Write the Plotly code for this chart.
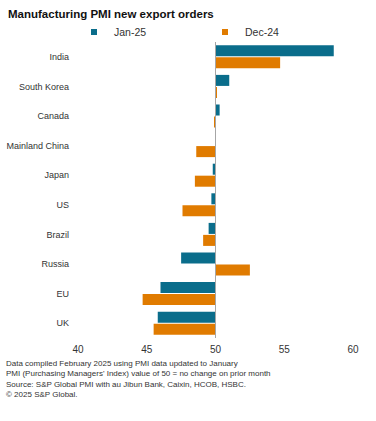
import plotly.graph_objects as go

countries = ["India", "South Korea", "Canada", "Mainland China", "Japan", "US", "Brazil", "Russia", "EU", "UK"]
jan25 = [58.6, 51.0, 50.3, 50.0, 49.8, 49.7, 49.5, 47.5, 46.0, 45.8]
dec24 = [54.7, 50.1, 49.9, 48.6, 48.5, 47.6, 49.1, 52.5, 44.7, 45.5]
baseline = 50
x_ticks = [40, 45, 50, 55, 60]

TEAL = "#0a6d8b"
ORANGE = "#e07b00"

fig = go.Figure()
fig.add_trace(go.Bar(
    y=countries, x=[v - baseline for v in jan25], base=baseline, orientation="h",
    name="Jan-25", marker=dict(color=TEAL, line=dict(width=0)), showlegend=False,
))
fig.add_trace(go.Bar(
    y=countries, x=[v - baseline for v in dec24], base=baseline, orientation="h",
    name="Dec-24", marker=dict(color=ORANGE, line=dict(width=0)), showlegend=False,
))
# legend-only entries with small square symbols
fig.add_trace(go.Scatter(x=[None], y=[None], mode="markers", name="Jan-25",
                         marker=dict(symbol="square", size=6, color=TEAL), legend="legend"))
fig.add_trace(go.Scatter(x=[None], y=[None], mode="markers", name="Dec-24",
                         marker=dict(symbol="square", size=6, color=ORANGE), legend="legend2"))

fig.add_shape(type="line", xref="x", yref="paper", x0=baseline, x1=baseline, y0=0, y1=1,
              line=dict(color="#a6a6a6", width=1))

W, H, L, R, T, B = 376, 421, 78, 23, 42, 83
PW = W - L - R
PH = H - T - B

fig.update_layout(
    width=W, height=H,
    margin=dict(l=L, r=R, t=T, b=B, autoexpand=False),
    paper_bgcolor="white", plot_bgcolor="white",
    font=dict(family="Liberation Sans, Arial, sans-serif", size=10, color="#333333"),
    barmode="group", bargap=0.19, bargroupgap=0.08,
    showlegend=True,
    legend=dict(orientation="h", x=(74 - L) / PW, xanchor="left", y=1 + (T - 32) / PH, yanchor="middle",
                font=dict(size=10.5, color="#333333"), itemwidth=30, bgcolor="rgba(0,0,0,0)"),
    legend2=dict(orientation="h", x=(205 - L) / PW, xanchor="left", y=1 + (T - 32) / PH, yanchor="middle",
                 font=dict(size=10.5, color="#333333"), itemwidth=30, bgcolor="rgba(0,0,0,0)"),
    xaxis=dict(range=[40, 60], tickvals=x_ticks, showgrid=False, zeroline=False, automargin=False,
               showline=False, ticks="", ticklabelstandoff=4, tickfont=dict(size=10, color="#333333")),
    yaxis=dict(autorange="reversed", showgrid=False, zeroline=False, showline=False, automargin=False,
               ticks="", ticklabelstandoff=8, tickfont=dict(size=9, color="#333333")),
)

fig.add_annotation(xref="paper", yref="paper", x=-(L - 6) / PW, y=1 + (T - 14) / PH,
                   xanchor="left", yanchor="middle",
                   text="<b>Manufacturing PMI new export orders</b>", showarrow=False,
                   font=dict(size=11.5, color="#111111"))

footer = ("Data compiled February 2025 using PMI data updated to January<br>"
          "PMI (Purchasing Managers' Index) value of 50 = no change on prior month<br>"
          "Source: S&P Global PMI with au Jibun Bank, Caixin, HCOB, HSBC.<br>"
          "© 2025 S&P Global.")
fig.add_annotation(xref="paper", yref="paper", x=-(L - 4) / PW, y=-(357 - T - PH) / PH,
                   xanchor="left", yanchor="top",
                   text=footer, showarrow=False, align="left",
                   font=dict(size=8, color="#333333"))

fig.write_html("out.html", config={"displayModeBar": False},
               post_script="document.body.style.margin='0';document.body.style.padding='0';")
